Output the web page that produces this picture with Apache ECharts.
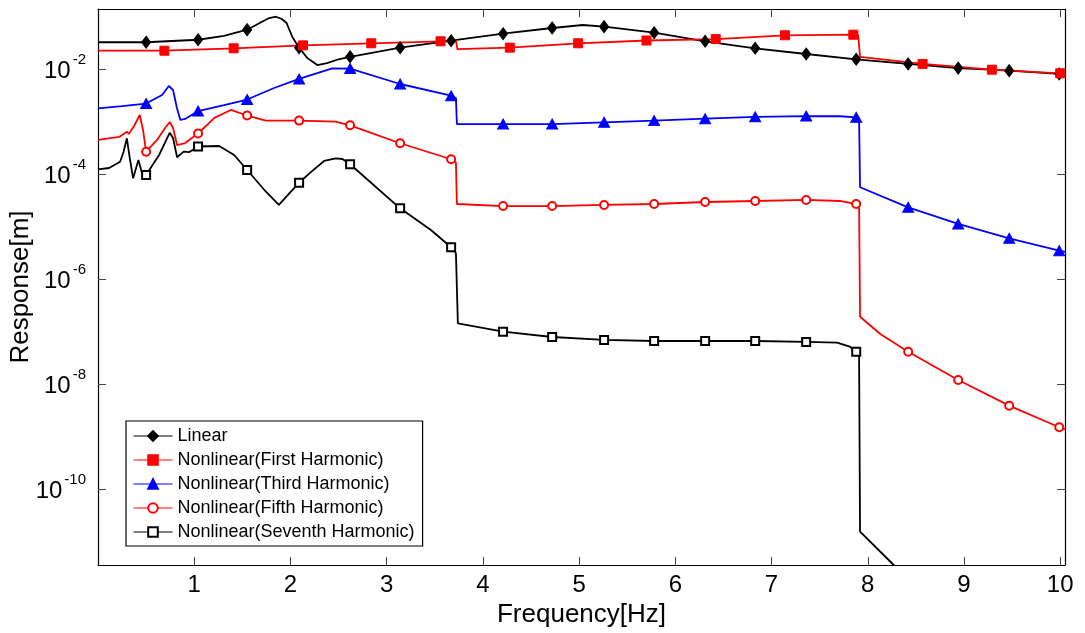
<!DOCTYPE html>
<html>
<head>
<meta charset="utf-8">
<script src="https://cdn.jsdelivr.net/npm/echarts@6/dist/echarts.min.js"></script>
<style>html,body{margin:0;padding:0;background:#fff}#c{width:1085px;height:633px}</style>
</head>
<body>
<div id="c"></div>
<script>
// ---- data (frequency in Hz, response in m) ----
const seriesNames = ['Linear', 'Nonlinear(First Harmonic)', 'Nonlinear(Third Harmonic)', 'Nonlinear(Fifth Harmonic)', 'Nonlinear(Seventh Harmonic)'];
const xTicks = [1, 2, 3, 4, 5, 6, 7, 8, 9, 10];
const yTicks = [1e-10, 1e-8, 1e-6, 1e-4, 1e-2];

const linearFreq = [0, 0.50, 1.04, 1.31, 1.55, 1.70, 1.78, 1.85, 1.91, 1.96, 2.02, 2.09, 2.175, 2.28, 2.38, 2.51, 2.62, 3.14, 3.67, 4.21, 4.72, 5.04, 5.26, 5.78, 6.31, 6.83, 7.36, 7.88, 8.42, 8.94, 9.47, 9.99, 10.05];
const linearResp = [3.23e-2, 3.23e-2, 3.61e-2, 4.26e-2, 5.61e-2, 7.85e-2, 9.35e-2, 9.91e-2, 8.95e-2, 7.52e-2, 4.07e-2, 2.55e-2, 1.62e-2, 1.19e-2, 1.30e-2, 1.55e-2, 1.71e-2, 2.55e-2, 3.46e-2, 4.70e-2, 6.04e-2, 6.89e-2, 6.40e-2, 4.91e-2, 3.37e-2, 2.48e-2, 1.93e-2, 1.53e-2, 1.25e-2, 1.04e-2, 9.29e-3, 8.04e-3, 7.85e-3];
const linearMarks = [0.50, 1.04, 1.55, 2.09, 2.62, 3.14, 3.67, 4.21, 4.72, 5.26, 5.78, 6.31, 6.83, 7.36, 7.88, 8.42, 8.94, 9.47, 9.99];

const firstFreq = [0, 0.69, 1.41, 2.13, 2.84, 3.56, 3.72, 3.735, 4.28, 4.99, 5.70, 6.42, 7.14, 7.85, 7.90, 7.92, 8.57, 9.29, 10.0, 10.05];
const firstResp = [2.23e-2, 2.23e-2, 2.48e-2, 2.82e-2, 3.09e-2, 3.37e-2, 3.52e-2, 2.40e-2, 2.55e-2, 3.09e-2, 3.49e-2, 3.72e-2, 4.39e-2, 4.50e-2, 4.45e-2, 1.71e-2, 1.25e-2, 9.70e-3, 8.28e-3, 8.11e-3];
const firstMarks = [0.69, 1.41, 2.13, 2.84, 3.56, 4.28, 4.99, 5.70, 6.42, 7.14, 7.85, 8.57, 9.29, 10.0];

const thirdFreq = [0, 0.25, 0.50, 0.666, 0.736, 0.78, 0.82, 0.856, 0.905, 1.04, 1.31, 1.55, 1.83, 2.09, 2.435, 2.62, 3.14, 3.67, 3.72, 3.73, 4.21, 4.72, 5.26, 5.78, 6.31, 6.83, 7.36, 7.71, 7.88, 7.91, 7.92, 8.42, 8.94, 9.47, 9.99, 10.05];
const thirdResp = [1.78e-3, 1.97e-3, 2.20e-3, 3.20e-3, 4.74e-3, 3.98e-3, 1.81e-3, 1.07e-3, 1.12e-3, 1.58e-3, 2.06e-3, 2.62e-3, 4.35e-3, 6.46e-3, 1.03e-2, 1.02e-2, 5.18e-3, 3.10e-3, 2.81e-3, 8.95e-4, 8.95e-4, 8.95e-4, 9.66e-4, 1.04e-3, 1.13e-3, 1.23e-3, 1.27e-3, 1.26e-3, 1.20e-3, 1.17e-3, 5.58e-5, 2.32e-5, 1.12e-5, 5.96e-6, 3.46e-6, 3.27e-6];
const thirdMarks = [0.50, 1.04, 1.55, 2.09, 2.62, 3.14, 3.67, 4.21, 4.72, 5.26, 5.78, 6.31, 6.83, 7.36, 7.88, 8.42, 8.94, 9.47, 9.99];

const fifthFreq = [0, 0.22, 0.30, 0.32, 0.375, 0.434, 0.468, 0.50, 0.614, 0.697, 0.746, 0.78, 0.822, 0.905, 1.04, 1.21, 1.38, 1.55, 1.745, 2.09, 2.47, 2.62, 3.14, 3.67, 3.72, 3.73, 4.21, 4.72, 5.26, 5.78, 6.31, 6.83, 7.36, 7.71, 7.88, 7.91, 7.92, 8.13, 8.42, 8.94, 9.47, 9.99, 10.05];
const fifthResp = [4.45e-4, 5.07e-4, 6.40e-4, 5.78e-4, 8.20e-4, 1.33e-3, 6.89e-4, 2.66e-4, 4.45e-4, 7.52e-4, 9.77e-4, 7.52e-4, 3.56e-4, 3.89e-4, 5.90e-4, 1.17e-3, 1.66e-3, 1.30e-3, 1.04e-3, 1.04e-3, 9.91e-4, 8.47e-4, 3.85e-4, 1.91e-4, 1.64e-4, 2.68e-5, 2.45e-5, 2.45e-5, 2.57e-5, 2.68e-5, 2.93e-5, 3.06e-5, 3.20e-5, 3.06e-5, 2.68e-5, 2.57e-5, 1.91e-7, 8.95e-8, 4.12e-8, 1.19e-8, 3.86e-9, 1.50e-9, 1.36e-9];
const fifthMarks = [0.50, 1.04, 1.55, 2.09, 2.62, 3.14, 3.67, 4.21, 4.72, 5.26, 5.78, 6.31, 6.83, 7.36, 7.88, 8.42, 8.94, 9.47, 9.99];

const seventhFreq = [0, 0.115, 0.23, 0.265, 0.30, 0.33, 0.365, 0.42, 0.475, 0.50, 0.635, 0.746, 0.78, 0.822, 0.89, 0.95, 1.04, 1.26, 1.415, 1.55, 1.73, 1.88, 2.09, 2.20, 2.35, 2.47, 2.54, 2.62, 3.14, 3.46, 3.67, 3.72, 3.74, 4.21, 4.72, 5.26, 5.78, 6.31, 6.83, 7.36, 7.68, 7.815, 7.88, 7.91, 7.92, 8.27, 8.55];
const seventhResp = [1.23e-4, 1.30e-4, 1.71e-4, 2.62e-4, 4.79e-4, 2.02e-4, 8.28e-5, 1.85e-4, 7.93e-5, 9.57e-5, 2.30e-4, 6.12e-4, 4.85e-4, 2.08e-4, 2.66e-4, 2.62e-4, 3.34e-4, 3.41e-4, 2.30e-4, 1.19e-4, 4.95e-5, 2.57e-5, 6.82e-5, 1.04e-4, 1.77e-4, 1.99e-4, 1.93e-4, 1.53e-4, 2.22e-5, 8.57e-6, 4.02e-6, 3.09e-6, 1.43e-7, 9.91e-8, 7.85e-8, 6.89e-8, 6.59e-8, 6.59e-8, 6.59e-8, 6.31e-8, 6.12e-8, 5.13e-8, 4.12e-8, 3.41e-8, 1.54e-11, 3.56e-12, 1.10e-12];
const seventhMarks = [0.50, 1.04, 1.55, 2.09, 2.62, 3.14, 3.67, 4.21, 4.72, 5.26, 5.78, 6.31, 6.83, 7.36, 7.88];

// ---- chart ----
const FONT = 'Liberation Sans';
const X_MIN = 0, X_MAX = 10.05;
const Y_MIN = 3.56e-12, Y_MAX = 0.139;

function build(xs, ys, marks) {
  return xs.map((x, i) => marks.indexOf(x) >= 0 ? [x, ys[i]] : { value: [x, ys[i]], symbol: 'none' });
}

function mkSeries(name, xs, ys, marks, color, symbol, size) {
  return {
    name: name, type: 'line', xAxisIndex: 0, yAxisIndex: 0,
    data: build(xs, ys, marks),
    symbol: symbol, symbolSize: size, showSymbol: true, showAllSymbol: true,
    lineStyle: { color: color, width: 1.8 },
    itemStyle: { color: color, borderColor: color, borderWidth: 1 },
    clip: true, z: 2
  };
}

const tickStyle = { show: true, inside: true, length: 8, lineStyle: { color: '#444', width: 1 } };
const lineStyle = { show: true, onZero: false, lineStyle: { color: '#000', width: 1.2 } };

const option = {
  animation: false,
  backgroundColor: '#fff',
  textStyle: { fontFamily: FONT },
  grid: { left: 98, top: 9, right: 20, bottom: 68, containLabel: false, outerBoundsMode: 'none' },
  legend: {
    orient: 'vertical', left: 126, top: 421,
    backgroundColor: '#fff', borderColor: '#000', borderWidth: 1.2,
    padding: [5, 8, 4, 7], itemWidth: 39, itemHeight: 12, itemGap: 4,
    textStyle: { fontSize: 18, lineHeight: 20, color: '#000', fontFamily: FONT },
    lineStyle: { width: 1 },
    data: seriesNames
  },
  xAxis: [{
    type: 'value', position: 'bottom', min: X_MIN, max: X_MAX,
    name: 'Frequency[Hz]', nameLocation: 'middle', nameGap: 37, nameMoveOverlap: false,
    nameTextStyle: { fontSize: 26, color: '#000', fontFamily: FONT },
    axisLine: lineStyle,
    axisTick: Object.assign({ customValues: xTicks }, tickStyle),
    axisLabel: { customValues: xTicks, fontSize: 24, color: '#000', margin: 8, fontFamily: FONT },
    splitLine: { show: false }
  }, {
    type: 'value', position: 'top', min: X_MIN, max: X_MAX,
    axisLine: lineStyle,
    axisTick: Object.assign({ customValues: xTicks }, tickStyle),
    axisLabel: { show: false }, splitLine: { show: false }
  }],
  yAxis: [{
    type: 'log', logBase: 10, position: 'left', min: Y_MIN, max: Y_MAX,
    name: 'Response[m]', nameLocation: 'middle', nameGap: 64, nameMoveOverlap: false,
    nameTextStyle: { fontSize: 26, color: '#000', fontFamily: FONT },
    axisLine: lineStyle,
    axisTick: Object.assign({ customValues: yTicks }, tickStyle),
    minorTick: { show: false },
    axisLabel: {
      customValues: yTicks, margin: 12, color: '#000',
      formatter: function (v) { return '{b|10}{s|' + Math.round(Math.log10(v)) + '}'; },
      rich: {
        b: { fontSize: 24, fontFamily: FONT, color: '#000', lineHeight: 24, padding: [4, 0, 0, 0] },
        s: { fontSize: 15, fontFamily: FONT, color: '#000', lineHeight: 15, padding: [0, 0, 19, 2] }
      }
    },
    splitLine: { show: false }
  }, {
    type: 'log', logBase: 10, position: 'right', min: Y_MIN, max: Y_MAX,
    axisLine: lineStyle,
    axisTick: Object.assign({ customValues: yTicks }, tickStyle),
    axisLabel: { show: false }, splitLine: { show: false }
  }],
  series: [
    mkSeries(seriesNames[0], linearFreq, linearResp, linearMarks, '#000000', 'diamond', [9, 12]),
    mkSeries(seriesNames[1], firstFreq, firstResp, firstMarks, '#ff0000', 'rect', 9),
    mkSeries(seriesNames[2], thirdFreq, thirdResp, thirdMarks, '#0000ff', 'triangle', [11, 10]),
    mkSeries(seriesNames[3], fifthFreq, fifthResp, fifthMarks, '#ff0000', 'emptyCircle', 8),
    mkSeries(seriesNames[4], seventhFreq, seventhResp, seventhMarks, '#000000', 'emptyRect', 8)
  ]
};

const chart = echarts.init(document.getElementById('c'), null, { renderer: 'canvas' });
chart.setOption(option);
</script>
</body>
</html>
